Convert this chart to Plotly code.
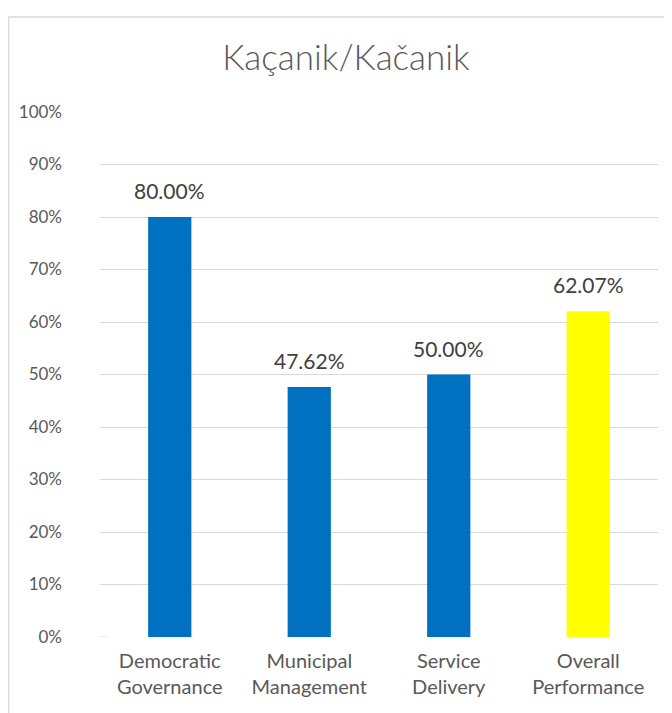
import plotly.graph_objects as go

categories = ["Democratic<br>Governance", "Municipal<br>Management", "Service<br>Delivery", "Overall<br>Performance"]
values = [80.00, 47.62, 50.00, 62.07]
colors = ["#0070C0", "#0070C0", "#0070C0", "#FFFF00"]
tick_vals = [0, 10, 20, 30, 40, 50, 60, 70, 80, 90, 100]
tick_text = [f"{v}%" for v in tick_vals]
title = "Kaçanik/Kačanik"

FONT = "Lato, 'Open Sans', sans-serif"
xs = list(range(len(categories)))

W, H = 664, 705  # page body has an 8px margin
L, R, T, B = 92, 14, 104, 76
pw, ph = W - L - R, H - T - B

fig = go.Figure(go.Bar(
    x=xs, y=values, marker=dict(color=colors, line=dict(width=0)),
    width=0.31, hoverinfo="skip",
))

for i, v in zip(xs, values):
    fig.add_annotation(x=i, y=v, xref="x", yref="y", text=f"{v:.2f}%", showarrow=False,
                       yanchor="bottom", yshift=12,
                       font=dict(family=FONT, size=21, color="#404040"))

# short stub at the 0% level
fig.add_shape(type="line", xref="x domain", yref="y", x0=0, x1=0.013, y0=0, y1=0,
              line=dict(color="#D9D9D9", width=1), layer="above")
# chart border
fig.add_shape(type="rect", xref="paper", yref="paper",
              x0=(0.5 - L) / pw, x1=(660 - L) / pw, y0=-0.3, y1=(H - B - 9) / ph,
              line=dict(color="#D9D9D9", width=1.5), layer="below")

fig.update_layout(
    width=W, height=H,
    margin=dict(l=L, r=R, t=T, b=B),
    paper_bgcolor="white", plot_bgcolor="white",
    title=dict(text=title, x=(338 - L) / pw, xref="paper", xanchor="center", y=1 - 50 / H, yanchor="middle",
               font=dict(family=FONT, size=35, color="#595959", weight=300)),
    showlegend=False,
    xaxis=dict(showline=False, showgrid=False, ticks="", range=[-0.5, 3.5],
               tickvals=xs, ticktext=categories, ticklabelstandoff=10,
               tickfont=dict(family=FONT, size=20, color="#595959")),
    yaxis=dict(range=[0, 100], tickvals=tick_vals, ticktext=tick_text,
               showgrid=True, gridcolor="#D9D9D9", gridwidth=1,
               zeroline=True, zerolinecolor="white", zerolinewidth=1,
               showline=False, ticks="", ticklabelstandoff=37,
               tickfont=dict(family=FONT, size=17, color="#595959")),
)

fig.write_html("out.html")
